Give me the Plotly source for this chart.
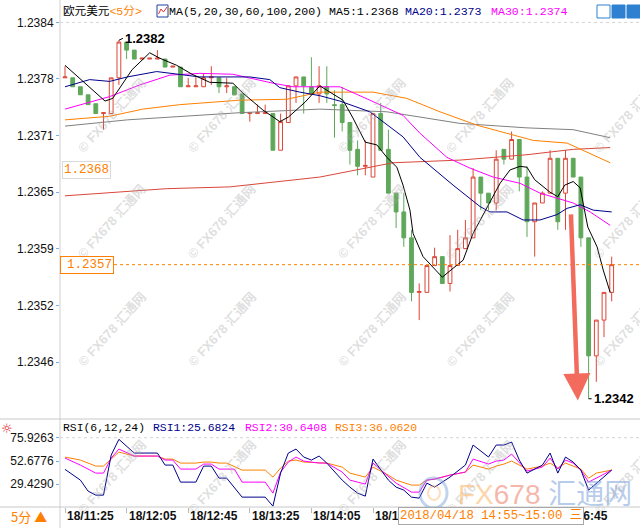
import plotly.graph_objects as go

W, H = 640, 528

# ---------------- data ----------------
candle_idx = list(range(72))
opens = [1.23778,1.23778,1.23768,1.23759,1.23749,1.23738,1.23738,1.23778,1.23818,1.23809,
         1.23799,1.23799,1.23799,1.23799,1.23790,1.23790,1.23768,1.23768,1.23768,1.23778,
         1.23778,1.23768,1.23768,1.23760,1.23738,1.23738,1.23738,1.23738,1.23697,1.23728,
         1.23769,1.23779,1.23768,1.23760,1.23768,1.23748,1.23748,1.23728,1.23698,1.23679,
         1.23667,1.23738,1.23698,1.23649,1.23628,1.23599,1.23538,1.23538,1.23568,1.23578,
         1.23548,1.23568,1.23587,1.23599,1.23667,1.23649,1.23638,1.23698,1.23687,1.23709,
         1.23667,1.23617,1.23638,1.23649,1.23688,1.23649,1.23688,1.23667,1.23599,1.23467,
         1.23507,1.23538]
closes = [1.23779,1.23768,1.23759,1.23748,1.23738,1.23739,1.23778,1.23818,1.23809,1.23799,
          1.23800,1.23800,1.23800,1.23790,1.23791,1.23768,1.23769,1.23769,1.23778,1.23779,
          1.23768,1.23769,1.23759,1.23738,1.23739,1.23739,1.23739,1.23697,1.23729,1.23769,
          1.23779,1.23769,1.23760,1.23769,1.23760,1.23747,1.23728,1.23697,1.23679,1.23680,
          1.23738,1.23697,1.23649,1.23628,1.23599,1.23538,1.23539,1.23568,1.23578,1.23548,
          1.23568,1.23587,1.23599,1.23667,1.23649,1.23638,1.23687,1.23687,1.23709,1.23667,
          1.23617,1.23638,1.23649,1.23688,1.23617,1.23688,1.23667,1.23599,1.23467,1.23507,
          1.23538,1.23569]
highs = [1.23791,1.23778,1.23768,1.23759,1.23749,1.23739,1.23778,1.23820,1.23818,1.23809,
         1.23800,1.23800,1.23809,1.23799,1.23791,1.23790,1.23778,1.23780,1.23783,1.23791,
         1.23778,1.23778,1.23768,1.23760,1.23739,1.23748,1.23748,1.23738,1.23738,1.23769,
         1.23779,1.23779,1.23801,1.23791,1.23791,1.23764,1.23768,1.23728,1.23708,1.23708,
         1.23738,1.23750,1.23720,1.23649,1.23649,1.23608,1.23548,1.23568,1.23588,1.23578,
         1.23602,1.23608,1.23619,1.23677,1.23667,1.23649,1.23697,1.23698,1.23718,1.23709,
         1.23679,1.23638,1.23651,1.23697,1.23688,1.23697,1.23688,1.23667,1.23599,1.23507,
         1.23538,1.23578]
lows = [1.23778,1.23768,1.23759,1.23748,1.23738,1.23720,1.23738,1.23770,1.23799,1.23799,
        1.23799,1.23799,1.23799,1.23790,1.23790,1.23768,1.23768,1.23768,1.23768,1.23770,
        1.23761,1.23761,1.23759,1.23738,1.23729,1.23738,1.23738,1.23697,1.23697,1.23728,
        1.23750,1.23738,1.23760,1.23750,1.23750,1.23711,1.23718,1.23681,1.23669,1.23669,
        1.23667,1.23697,1.23649,1.23610,1.23589,1.23528,1.23507,1.23538,1.23568,1.23548,
        1.23539,1.23568,1.23587,1.23599,1.23630,1.23630,1.23630,1.23681,1.23687,1.23651,
        1.23600,1.23578,1.23638,1.23649,1.23608,1.23608,1.23667,1.23589,1.23419,1.23438,
        1.23488,1.23528]

ma5_x = [0,5.2,6.2,8.7,11.0,12.3,14.5,16.5,18.8,21.8,23.1,25.7,27.9,29.0,31.2,33.1,34.4,36.1,37.4,39.0,
         40.5,41.8,43.1,43.9,44.8,45.2,46.5,47.8,49.0,50.4,51.7,53.0,54.8,56.5,57.8,59.1,60.0,61.0,63.0,64.0,
         64.9,66.0,66.9,67.3,67.9,69.1,69.9,70.8]
ma5_y = [1.23792,1.23752,1.23755,1.23787,1.23806,1.23800,1.23792,1.23782,1.23773,1.23772,
         1.23761,1.23742,1.23729,1.23734,1.23751,1.23769,1.23762,1.23753,1.23733,1.23706,
         1.23703,1.23689,1.23678,1.23658,1.23630,1.23604,1.23578,1.23566,1.23555,1.23565,
         1.23574,1.23604,1.23632,1.23660,1.23675,1.23679,1.23678,1.23664,1.23650,1.23645,
         1.23658,1.23662,1.23655,1.23638,1.23611,1.23589,1.23563,1.23538]
ma20_x = [0,3.2,5.8,8.1,11.9,17.5,24.0,26.6,27.9,30.5,33.1,35.7,39.6,43.9,46.1,50.4,53.9,55.2,57.4,59.5,
          61.7,63.9,65.2,66.9,68.6,71.0]
ma20_y = [1.23768,1.23776,1.23774,1.23779,1.23785,1.23779,1.23779,1.23776,1.23767,1.23762,
          1.23758,1.23752,1.23740,1.23712,1.23689,1.23658,1.23634,1.23628,1.23628,1.23619,
          1.23619,1.23625,1.23632,1.23636,1.23630,1.23628]
ma30_x = [0,5.8,9.7,13.6,17.5,21.8,27.0,29.6,33.1,35.7,39.6,43.9,46.1,49.6,52.6,55.6,59.1,61.7,66.0,68.2,70.8]
ma30_y = [1.23743,1.23757,1.23770,1.23781,1.23783,1.23782,1.23772,1.23768,1.23768,1.23768,
          1.23753,1.23736,1.23716,1.23689,1.23677,1.23667,1.23660,1.23649,1.23638,1.23628,1.23613]
ma60_x = [0,5.8,10.1,14.9,22.7,28.8,33.1,40.0,44.4,48.7,53.5,57.4,60.8,65.2,67.8,70.8]
ma60_y = [1.23731,1.23735,1.23743,1.23748,1.23753,1.23754,1.23762,1.23762,1.23755,1.23740,
          1.23725,1.23716,1.23708,1.23705,1.23695,1.23683]
ma100_x = [0,8.1,22.7,33.1,41.8,51.3,60.0,66.0,70.8]
ma100_y = [1.23724,1.23731,1.23739,1.23743,1.23740,1.23727,1.23722,1.23720,1.23711]
ma200_x = [0,13.2,21.4,33.1,42.6,51.3,60.0,66.0,70.8]
ma200_y = [1.23646,1.23654,1.23656,1.23667,1.23683,1.23686,1.23692,1.23698,1.23700]

rsi1_x = [0,2,3,4,5,6,7,9,12,13,14,15,17,18,19,20,21,23,26,27,28,29,30,31,32,33,34,36,37,38,
          39,40,42,43,44,45,46,47,48,50,52,53,55,56,57,58,59,60,62,63,64,65,66,67,68,71]
rsi1 = [44.3,33.6,22.6,18.6,18.6,58.6,74.3,60.6,60.6,48.6,48.6,31.6,31.6,47.6,47.6,35.6,35.6,16.6,16.6,7.6,
        40.6,60.6,64.6,56.6,53.6,57.6,50.6,33.6,26.6,20.6,17.6,54.6,33.6,26.6,23.6,16.6,15.6,30.6,26.6,36.6,
        48.6,68.6,56.6,68.6,68.6,71.6,53.6,40.6,48.6,60.6,40.6,56.6,51.6,43.6,23.6,43.6]
rsi2_x = [0,2,4,5,6,7,9,12,13,14,15,17,18,19,20,22,23,26,27,28,29,30,31,33,34,36,37,39,40,42,
          43,45,46,47,48,50,52,53,55,56,57,58,59,60,62,63,64,65,66,67,68,71]
rsi2 = [55.6,48.6,40.6,40.6,55.6,64.6,57.6,57.6,53.6,53.6,44.6,44.6,49.6,49.6,44.6,44.6,31.6,31.6,20.6,41.6,
        51.6,56.6,52.6,50.6,50.6,41.6,33.6,29.6,50.6,36.6,30.6,21.6,21.6,33.6,34.6,38.6,41.6,54.6,49.6,52.6,
        53.6,59.6,50.6,42.6,46.6,55.6,44.6,53.6,50.6,43.6,31.6,43.6]
rsi3_x = [0,2,4,5,6,7,9,12,13,14,15,17,18,19,20,21,23,26,27,28,29,30,31,33,34,36,37,39,40,42,
          43,45,46,47,48,50,52,53,55,56,57,58,59,60,62,63,64,65,66,67,68,69,71]
rsi3 = [56.6,53.6,47.6,47.6,54.6,61.6,57.6,57.6,54.6,54.6,50.6,50.6,51.6,51.6,50.6,50.6,43.6,43.6,36.6,45.6,
        52.6,53.6,51.6,50.6,50.6,46.6,40.6,36.6,46.6,38.6,33.6,28.6,28.6,33.6,34.6,38.6,41.6,48.6,44.6,47.6,
        49.6,52.6,48.6,44.6,47.6,50.6,45.6,50.6,47.6,44.6,35.6,40.6,43.6]

price_ticks = [1.23840, 1.237767, 1.237133, 1.236500, 1.235867, 1.235233, 1.234600]
price_tick_text = ["1.2384", "1.2378", "1.2371", "1.2365", "1.2359", "1.2352", "1.2346"]
rsi_ticks = [75.9263, 52.6776, 29.4290]
time_idx = [0, 8, 16, 24, 32, 40, 48, 56, 64]
time_labels = ["18/11:25", "18/12:05", "18/12:45", "18/13:25", "18/14:05",
               "18/14:45", "18/15:25", "18/16:05", "18/16:45"]
ma5_label_value = 1.23675
hover_label = "2018/04/18 14:55~15:00 三"
title_ma = "MA(5,20,30,60,100,200) MA5:1.2368"
ma20_text = "MA20:1.2373"
ma30_text = "MA30:1.2374"
rsi_texts = ["RSI(6,12,24)", "RSI1:25.6824", "RSI2:30.6408", "RSI3:36.0620"]
arrow_start = (65.7, 1.23627)
arrow_end = (66.6, 1.23417)

# ---------------- styling ----------------
RED = "#dd4536"
GREEN = "#5fa85a"
NAVY = "#00008b"
MAGENTA = "#ff00ff"
ORANGE = "#ff8000"
MONO = "Liberation Mono, Noto Sans CJK SC, monospace"
SANS = "Liberation Sans, Arial, Noto Sans CJK SC, sans-serif"

MAIN_TOP_PX, MAIN_BOT_PX, RSI_BOT_PX = 0, 419, 507
PLOT_LEFT_PX = 60
CANDLE_PX = 7.7
FIRST_CANDLE_PX = 65
X0 = -(FIRST_CANDLE_PX - PLOT_LEFT_PX) / CANDLE_PX
X1 = X0 + (W - PLOT_LEFT_PX) / CANDLE_PX
PX_PER_PRICE = 89400.0
TOP_TICK_PX = 22.4
Y_TOP = price_ticks[0] + (TOP_TICK_PX - MAIN_TOP_PX) / PX_PER_PRICE
Y_BOT = price_ticks[0] - (MAIN_BOT_PX - TOP_TICK_PX) / PX_PER_PRICE
RSI_TOP_TICK_PX = 437.7
PX_PER_RSI = 1.002
R_TOP = rsi_ticks[0] + (RSI_TOP_TICK_PX - MAIN_BOT_PX) / PX_PER_RSI
R_BOT = rsi_ticks[0] - (RSI_BOT_PX - RSI_TOP_TICK_PX) / PX_PER_RSI


def px(x):
    return x / W


def py(y):
    return 1 - y / H


fig = go.Figure()

fig.add_trace(go.Candlestick(
    x=candle_idx, open=opens, high=highs, low=lows, close=closes,
    increasing=dict(line=dict(color=RED, width=1), fillcolor="white"),
    decreasing=dict(line=dict(color=GREEN, width=1), fillcolor=GREEN),
    whiskerwidth=0, xaxis="x", yaxis="y", showlegend=False, hoverinfo="skip"))

for xs, ys, col in [(ma200_x, ma200_y, "#d9473b"), (ma100_x, ma100_y, "#808080"),
                    (ma60_x, ma60_y, ORANGE), (ma30_x, ma30_y, MAGENTA),
                    (ma20_x, ma20_y, NAVY), (ma5_x, ma5_y, "#000000")]:
    fig.add_trace(go.Scatter(x=xs, y=ys, mode="lines", line=dict(color=col, width=1),
                             xaxis="x", yaxis="y", showlegend=False, hoverinfo="skip"))

for xs, ys, col in [(rsi3_x, rsi3, ORANGE), (rsi2_x, rsi2, MAGENTA), (rsi1_x, rsi1, NAVY)]:
    fig.add_trace(go.Scatter(x=xs, y=ys, mode="lines", line=dict(color=col, width=1),
                             xaxis="x2", yaxis="y2", showlegend=False, hoverinfo="skip"))

shapes = [
    dict(type="line", xref="paper", yref="paper", x0=px(PLOT_LEFT_PX), x1=px(PLOT_LEFT_PX),
         y0=0, y1=1, line=dict(color="#cfcfcf", width=1)),
    dict(type="line", xref="paper", yref="paper", x0=0, x1=1, y0=py(MAIN_BOT_PX), y1=py(MAIN_BOT_PX),
         line=dict(color="#c8c8c8", width=1)),
    dict(type="line", xref="paper", yref="paper", x0=0, x1=1, y0=py(RSI_BOT_PX), y1=py(RSI_BOT_PX),
         line=dict(color="#c8c8c8", width=1)),
    dict(type="line", xref="paper", yref="y", x0=px(PLOT_LEFT_PX), x1=1, y0=price_ticks[0],
         y1=price_ticks[0], line=dict(color="#d4d4d4", width=1, dash="3px,3px"), layer="below"),
    dict(type="line", xref="paper", yref="y2", x0=px(PLOT_LEFT_PX), x1=1, y0=rsi_ticks[0],
         y1=rsi_ticks[0], line=dict(color="#d4d4d4", width=1, dash="3px,3px"), layer="below"),
    dict(type="line", xref="paper", yref="y", x0=px(PLOT_LEFT_PX), x1=1, y0=closes[-1],
         y1=closes[-1], line=dict(color=ORANGE, width=1, dash="3px,3px")),
    # small icons in the title row
    dict(type="rect", xref="paper", yref="paper", x0=px(157), x1=px(168), y0=py(17), y1=py(5),
         line=dict(color="#1f3f9f", width=1), fillcolor="white"),
    dict(type="path", xref="paper", yref="paper",
         path=f"M {px(158.5)} {py(14)} L {px(161)} {py(9)} L {px(163.5)} {py(12)} L {px(167)} {py(7)}",
         line=dict(color="#e03030", width=1)),
    dict(type="rect", xref="paper", yref="paper", x0=px(597), x1=px(610), y0=py(18), y1=py(5),
         line=dict(color="#2f80d0", width=1), fillcolor="white"),
    dict(type="rect", xref="paper", yref="paper", x0=px(612), x1=px(625), y0=py(18), y1=py(5),
         line=dict(color="#2f80d0", width=1), fillcolor="#2f80d0"),
    dict(type="rect", xref="paper", yref="paper", x0=px(627), x1=px(640), y0=py(18), y1=py(5),
         line=dict(color="#2f80d0", width=1), fillcolor="#2f80d0"),
    # faded logo ring
    dict(type="circle", xref="paper", yref="paper", x0=px(420), x1=px(447), y0=py(508), y1=py(478),
         line=dict(color="rgba(120,160,215,0.45)", width=3)),
    dict(type="circle", xref="paper", yref="paper", x0=px(428), x1=px(440), y0=py(500), y1=py(486),
         line=dict(color="rgba(250,180,110,0.45)", width=2)),
]

ann = []
# watermarks
for wy in [73, 222, 372, 520]:
    for wx in [72, 222, 372, 520, 668]:
        ann.append(dict(xref="paper", yref="paper", x=px(wx), y=py(wy), text="<b>© FX678 汇通网</b>",
                        showarrow=False, textangle=-48, font=dict(family=SANS, size=13,
                        color="rgba(170,170,170,0.38)")))
ann.append(dict(xref="paper", yref="paper", x=px(456), y=py(494), xanchor="left", yanchor="middle",
                showarrow=False,
                text='<span style="color:rgba(250,185,110,0.6)">FX</span>'
                     '<span style="color:rgba(240,135,115,0.6)">678</span> '
                     '<span style="color:rgba(135,170,220,0.6)">汇通网</span>',
                font=dict(family=SANS, size=28)))

# title row
ann += [
    dict(xref="paper", yref="paper", x=px(61), y=py(11), xanchor="left", yanchor="middle",
         showarrow=False, text='欧元美元<span style="color:#ff8000">&lt;5分&gt;</span>',
         font=dict(family=MONO, size=11.6, color="#000")),
    dict(xref="paper", yref="paper", x=px(167), y=py(11), xanchor="left", yanchor="middle",
         showarrow=False, text=title_ma, font=dict(family=MONO, size=11.6, color="#000")),
    dict(xref="paper", yref="paper", x=px(403), y=py(11), xanchor="left", yanchor="middle",
         showarrow=False, text=ma20_text, font=dict(family=MONO, size=11.6, color=NAVY)),
    dict(xref="paper", yref="paper", x=px(489), y=py(11), xanchor="left", yanchor="middle",
         showarrow=False, text=ma30_text, font=dict(family=MONO, size=11.6, color=MAGENTA)),
]

# high / low labels
i_hi = max(candle_idx, key=lambda i: highs[i])
i_lo = min(candle_idx, key=lambda i: lows[i])
ann.append(dict(xref="x", yref="y", x=i_hi, y=highs[i_hi], text=f"<b>{highs[i_hi]:.4f}</b>",
                showarrow=True, arrowhead=0, arrowwidth=1, arrowcolor="#000", ax=4, ay=-2,
                xanchor="left", yanchor="middle", standoff=0,
                font=dict(family=SANS, size=13, color="#000")))
ann.append(dict(xref="x", yref="y", x=i_lo, y=lows[i_lo], text=f"<b>{lows[i_lo]:.4f}</b>",
                showarrow=True, arrowhead=0, arrowwidth=1, arrowcolor="#000", ax=3, ay=0,
                xanchor="left", yanchor="middle", standoff=0,
                font=dict(family=SANS, size=13, color="#000")))

# red arrow
ann.append(dict(xref="x", yref="y", x=arrow_end[0], y=arrow_end[1], axref="x", ayref="y",
                ax=arrow_start[0], ay=arrow_start[1], text="", showarrow=True, arrowhead=2,
                arrowsize=1.2, arrowwidth=4.5, arrowcolor="#f36b5c", standoff=0))

# value boxes
ann.append(dict(xref="paper", yref="y", x=px(62), y=ma5_label_value, xanchor="left", yanchor="middle",
                text=f"{ma5_label_value:.4f}", showarrow=False, bgcolor="white", bordercolor="#dadada",
                borderwidth=1, borderpad=1, font=dict(family=MONO, size=12.5, color=ORANGE)))
ann.append(dict(xref="paper", yref="y", x=px(60), y=closes[-1], xanchor="left", yanchor="middle",
                text=f"{closes[-1]:.4f}", showarrow=False, bgcolor="white", bordercolor=ORANGE,
                borderwidth=1, borderpad=1, width=50, align="right",
                font=dict(family=MONO, size=12.5, color=ORANGE)))

# RSI header
rsi_cols = ["#000", NAVY, MAGENTA, ORANGE]
rsi_xpx = [61, 151, 243, 333]
for t, c, xx in zip(rsi_texts, rsi_cols, rsi_xpx):
    ann.append(dict(xref="paper", yref="paper", x=px(xx), y=py(428), xanchor="left", yanchor="middle",
                    text=t, showarrow=False, font=dict(family=MONO, size=11.4, color=c)))
ann.append(dict(xref="paper", yref="paper", x=px(7), y=py(428), xanchor="center", yanchor="middle",
                text="☼", showarrow=False, font=dict(family="DejaVu Sans", size=13, color="#e02020")))

# bottom time labels
for i, t in zip(time_idx, time_labels):
    ann.append(dict(xref="x2", yref="paper", x=i, y=py(516), xanchor="left", yanchor="middle",
                    text=f"<b>{t}</b>", showarrow=False, font=dict(family=SANS, size=12, color="#111")))
ann.append(dict(xref="paper", yref="paper", x=px(398), y=py(516), xanchor="left", yanchor="middle",
                text=hover_label, showarrow=False, bgcolor="white", bordercolor="#a8a8a8", borderwidth=1,
                borderpad=1, font=dict(family=MONO, size=12.3, color=ORANGE)))
ann.append(dict(xref="paper", yref="paper", x=px(9), y=py(516), xanchor="left", yanchor="middle",
                text="5分 ▲", showarrow=False, font=dict(family="Noto Sans CJK SC", size=13, color=ORANGE)))

fig.update_layout(
    width=W, height=H, margin=dict(l=0, r=0, t=0, b=0),
    paper_bgcolor="white", plot_bgcolor="white", showlegend=False,
    xaxis=dict(domain=[px(PLOT_LEFT_PX), 1], range=[X0, X1], showticklabels=False, showgrid=False,
               zeroline=False, ticks="", rangeslider=dict(visible=False), fixedrange=True),
    yaxis=dict(domain=[py(MAIN_BOT_PX), py(MAIN_TOP_PX)], range=[Y_BOT, Y_TOP], tickvals=price_ticks,
               ticktext=price_tick_text, ticks="outside", ticklen=3, tickcolor="#6fb3ea",
               showgrid=False, zeroline=False, automargin=False,
               tickfont=dict(family=SANS, size=12, color="#111")),
    xaxis2=dict(domain=[px(PLOT_LEFT_PX), 1], range=[X0, X1], anchor="y2", tickvals=time_idx,
                ticks="outside", ticklen=5, tickcolor="#b8b8b8", showticklabels=False,
                showgrid=False, zeroline=False),
    yaxis2=dict(domain=[py(RSI_BOT_PX), py(MAIN_BOT_PX)], range=[R_BOT, R_TOP], anchor="x2",
                tickvals=rsi_ticks, ticktext=[f"{v:.4f}" for v in rsi_ticks], ticks="outside",
                ticklen=3, tickcolor="#6fb3ea", showgrid=False, zeroline=False, automargin=False,
                tickfont=dict(family=SANS, size=12, color="#111")),
    shapes=shapes, annotations=ann,
)

fig.write_html("out.html", config={"displayModeBar": False},
               post_script="document.body.style.margin='0';document.body.style.overflow='hidden';")
